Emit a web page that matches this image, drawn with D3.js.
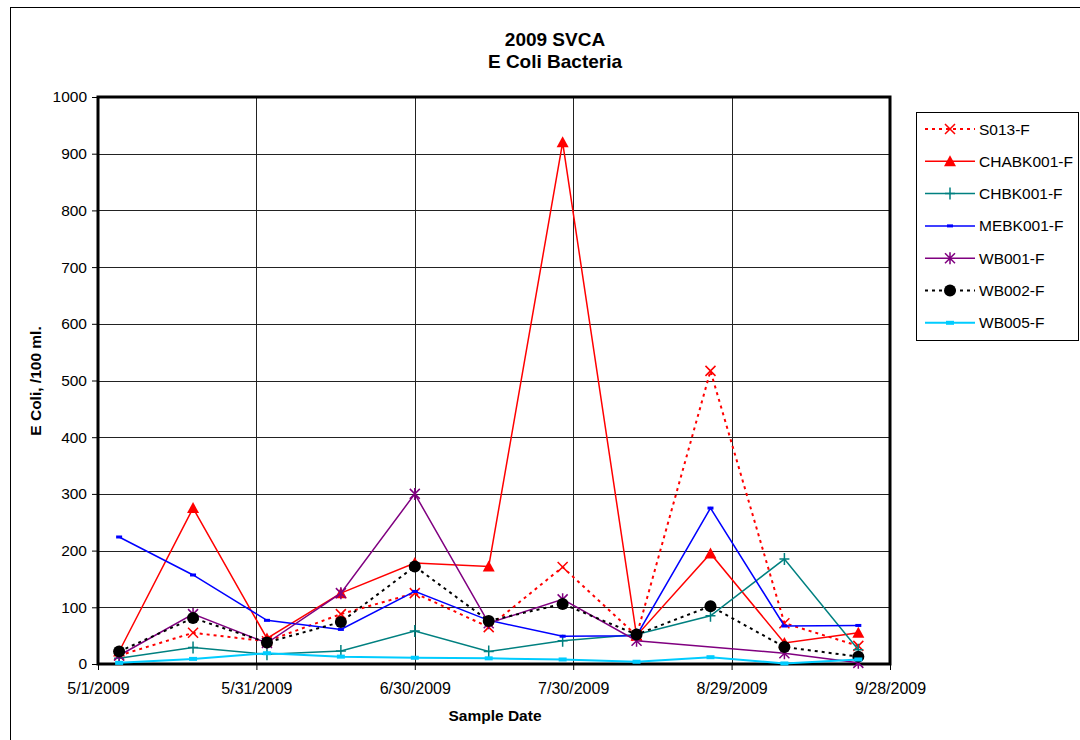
<!DOCTYPE html>
<html lang="en">
<head>
<meta charset="utf-8">
<script src="https://d3js.org/d3.v7.min.js"></script>
<style>
  body { margin: 0; background: #fff; }
  text { font-family: "Liberation Sans", Arial, sans-serif; }
</style>
</head>
<body>
<script>
// sample dates (every two weeks) and E coli counts per station
const sampleDates = ["2009-05-05", "2009-05-19", "2009-06-02", "2009-06-16", "2009-06-30", "2009-07-14",
                     "2009-07-28", "2009-08-11", "2009-08-25", "2009-09-08", "2009-09-22"];
const s013     = [15, 55, 40, 88, 125, 65, 171, 50, 517, 72, 32];
const chabk001 = [22, 275, 45, 125, 178, 172, 920, 50, 195, 37, 55];
const chbk001  = [10, 29, 17, 23, 58, 22, 41, 52, 85, 185, 25];
const mebk001  = [224, 157, 77, 61, 128, 77, 49, 50, 275, 67, 68];
const wb001    = [15, 88, 37, 125, 300, 72, 114, 41, null, 19, 2];
const wb002    = [22, 81, 38, 74, 172, 76, 106, 52, 102, 30, 13];
const wb005    = [2, 9, 19, 13, 11, 10, 8, 4, 12, 1, 8];

const xTickDates = ["2009-05-01", "2009-05-31", "2009-06-30", "2009-07-30", "2009-08-29", "2009-09-28"];
const yTicks = [0, 100, 200, 300, 400, 500, 600, 700, 800, 900, 1000];

const series = [
  {name: "S013-F",     values: s013,     color: "#ff0000", dash: "3,4", width: 2,   marker: "x"},
  {name: "CHABK001-F", values: chabk001, color: "#ff0000", dash: null,  width: 1.5, marker: "triangle"},
  {name: "CHBK001-F",  values: chbk001,  color: "#008080", dash: null,  width: 1.5, marker: "plus"},
  {name: "MEBK001-F",  values: mebk001,  color: "#0000ff", dash: null,  width: 1.5, marker: "dash"},
  {name: "WB001-F",    values: wb001,    color: "#800080", dash: null,  width: 1.5, marker: "star"},
  {name: "WB002-F",    values: wb002,    color: "#000000", dash: "3,4", width: 2,   marker: "circle"},
  {name: "WB005-F",    values: wb005,    color: "#00ccff", dash: null,  width: 2,   marker: "bar"}
];

const parse = d3.utcParse("%Y-%m-%d");
const dates = sampleDates.map(parse);

const W = 1080, H = 740;
const L = 98, R = 890, T = 97, B = 664;

const svg = d3.select("body").append("svg")
  .attr("width", W).attr("height", H);

// chart outer frame
svg.append("rect")
  .attr("x", 10.5).attr("y", 7.5)
  .attr("width", W).attr("height", H)
  .attr("fill", "none").attr("stroke", "#000").attr("stroke-width", 1);

const x = d3.scaleUtc()
  .domain([parse(xTickDates[0]), parse(xTickDates[xTickDates.length - 1])])
  .range([L, R]);
const y = d3.scaleLinear().domain([0, 1000]).range([B, T]);

// gridlines
svg.append("g")
  .selectAll("line.h")
  .data(yTicks.slice(1, -1))
  .enter().append("line")
  .attr("x1", L).attr("x2", R)
  .attr("y1", d => Math.round(y(d)) + 0.5).attr("y2", d => Math.round(y(d)) + 0.5)
  .attr("stroke", "#222").attr("stroke-width", 1);

svg.append("g")
  .selectAll("line.v")
  .data(xTickDates.slice(1, -1).map(parse))
  .enter().append("line")
  .attr("x1", d => Math.round(x(d)) + 0.5).attr("x2", d => Math.round(x(d)) + 0.5)
  .attr("y1", T).attr("y2", B)
  .attr("stroke", "#222").attr("stroke-width", 1);

// axes
const fmt = d => (d.getUTCMonth() + 1) + "/" + d.getUTCDate() + "/" + d.getUTCFullYear();

const xAxis = svg.append("g")
  .attr("transform", "translate(0," + B + ")")
  .call(d3.axisBottom(x).tickValues(xTickDates.map(parse)).tickFormat(fmt).tickSize(6).tickPadding(13));
xAxis.select(".domain").remove();
xAxis.selectAll("text").attr("font-size", 16).attr("fill", "#000")
  .style("font-family", "'Liberation Sans', Arial, sans-serif");

const yAxis = svg.append("g")
  .attr("transform", "translate(" + L + ",0)")
  .call(d3.axisLeft(y).tickValues(yTicks).tickFormat(d3.format("d")).tickSize(6).tickPadding(5));
yAxis.select(".domain").remove();
yAxis.selectAll("text").attr("font-size", 15.5).attr("fill", "#000")
  .style("font-family", "'Liberation Sans', Arial, sans-serif");

// plot area border (thick)
svg.append("rect")
  .attr("x", L).attr("y", T)
  .attr("width", R - L).attr("height", B - T)
  .attr("fill", "none").attr("stroke", "#000").attr("stroke-width", 3);

// markers
function drawMarker(g, type, color) {
  if (type === "x") {
    g.append("path").attr("d", "M-5,-5L5,5M-5,5L5,-5").attr("stroke", color).attr("stroke-width", 1.5).attr("fill", "none");
  } else if (type === "triangle") {
    g.append("path").attr("d", "M0,-6L6,5L-6,5Z").attr("fill", color);
  } else if (type === "plus") {
    g.append("path").attr("d", "M-5,0L5,0M0,-6L0,6").attr("stroke", color).attr("stroke-width", 1.5);
  } else if (type === "dash") {
    g.append("rect").attr("x", -3).attr("y", -1.5).attr("width", 6).attr("height", 3).attr("fill", color);
  } else if (type === "star") {
    g.append("path").attr("d", "M-5,-5L5,5M-5,5L5,-5M0,-6L0,6").attr("stroke", color).attr("stroke-width", 1.5);
  } else if (type === "circle") {
    g.append("circle").attr("r", 6).attr("fill", color);
  } else if (type === "bar") {
    g.append("rect").attr("x", -4).attr("y", -2).attr("width", 8).attr("height", 4).attr("fill", color);
  }
}

const line = d3.line()
  .x(d => x(d.date))
  .y(d => y(d.value));

series.forEach(s => {
  const pts = s.values
    .map((v, i) => ({date: dates[i], value: v}))
    .filter(d => d.value !== null);

  svg.append("path")
    .datum(pts)
    .attr("fill", "none")
    .attr("stroke", s.color)
    .attr("stroke-width", s.width)
    .attr("stroke-dasharray", s.dash)
    .attr("d", line);

  svg.append("g")
    .selectAll("g")
    .data(pts)
    .enter().append("g")
    .attr("transform", d => "translate(" + x(d.date) + "," + y(d.value) + ")")
    .each(function() { drawMarker(d3.select(this), s.marker, s.color); });
});

// titles
svg.append("text").attr("x", 555).attr("y", 46).attr("text-anchor", "middle")
  .attr("font-size", 19).attr("font-weight", "bold").text("2009 SVCA");
svg.append("text").attr("x", 555).attr("y", 68).attr("text-anchor", "middle")
  .attr("font-size", 19).attr("font-weight", "bold").text("E Coli Bacteria");

svg.append("text").attr("x", 495).attr("y", 721).attr("text-anchor", "middle")
  .attr("font-size", 15.5).attr("font-weight", "bold").text("Sample Date");

svg.append("text")
  .attr("transform", "translate(41,381) rotate(-90)")
  .attr("text-anchor", "middle")
  .attr("font-size", 15.5).attr("font-weight", "bold").text("E Coli, /100 ml.");

// legend
const lg = svg.append("g").attr("transform", "translate(916,112)");
lg.append("rect").attr("x", 0.5).attr("y", 0.5).attr("width", 162).attr("height", 228)
  .attr("fill", "#fff").attr("stroke", "#000").attr("stroke-width", 1);

series.forEach((s, i) => {
  const row = lg.append("g").attr("transform", "translate(0," + (17 + i * 32.3) + ")");
  row.append("line").attr("x1", 9).attr("x2", 59).attr("y1", 0).attr("y2", 0)
    .attr("stroke", s.color).attr("stroke-width", s.width)
    .attr("stroke-dasharray", s.dash);
  drawMarker(row.append("g").attr("transform", "translate(34,0)"), s.marker, s.color);
  row.append("text").attr("x", 63).attr("y", 5.5).attr("font-size", 15.5).text(s.name);
});
</script>
</body>
</html>
